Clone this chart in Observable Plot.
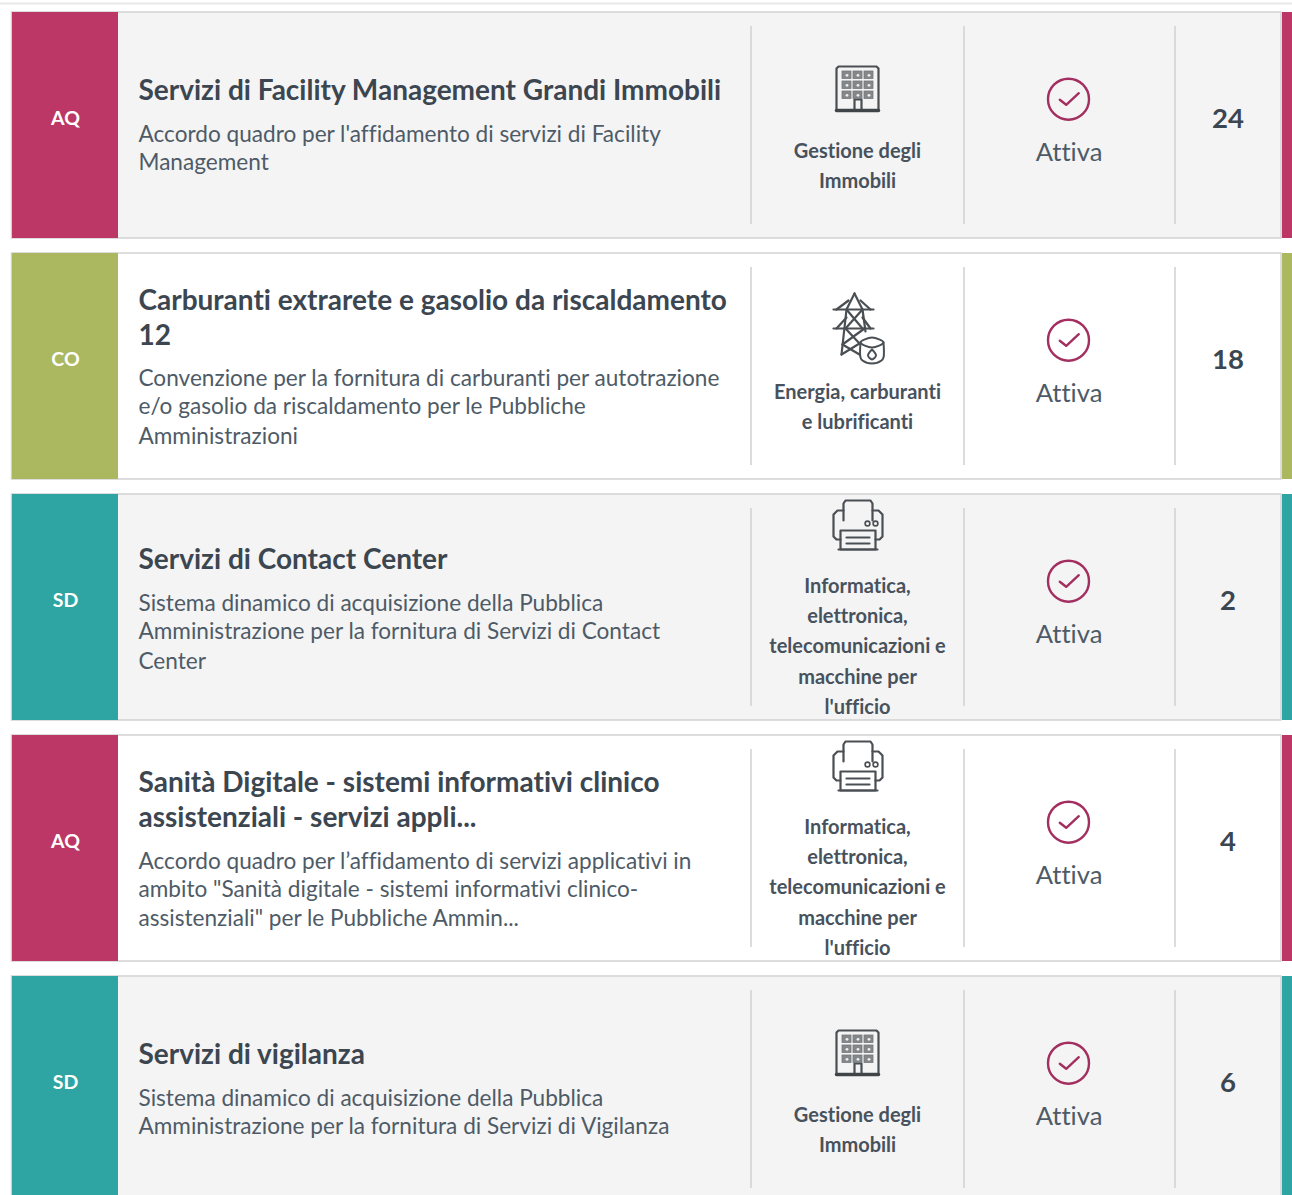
<!DOCTYPE html>
<html lang="it">
<head>
<meta charset="utf-8">
<style>
html,body{margin:0;padding:0;background:#fff;overflow:hidden}
svg{display:block}
svg text{font-variant-ligatures:none}
</style>
<script src="https://cdn.jsdelivr.net/npm/d3@7"></script>
<script src="https://cdn.jsdelivr.net/npm/@observablehq/plot@0.6"></script>
</head>
<body>
<div id="chart"></div>
<script>
const codes = ["AQ","CO","SD","AQ","SD"];
const counts = ["24","18","2","4","6"];
const statusLabels = ["Attiva","Attiva","Attiva","Attiva","Attiva"];
const titles = [
  ["Servizi di Facility Management Grandi Immobili"],
  ["Carburanti extrarete e gasolio da riscaldamento","12"],
  ["Servizi di Contact Center"],
  ["Sanità Digitale - sistemi informativi clinico","assistenziali - servizi appli..."],
  ["Servizi di vigilanza"]
];
const descriptions = [
  ["Accordo quadro per l'affidamento di servizi di Facility","Management"],
  ["Convenzione per la fornitura di carburanti per autotrazione","e/o gasolio da riscaldamento per le Pubbliche","Amministrazioni"],
  ["Sistema dinamico di acquisizione della Pubblica","Amministrazione per la fornitura di Servizi di Contact","Center"],
  ["Accordo quadro per l’affidamento di servizi applicativi in","ambito \"Sanità digitale - sistemi informativi clinico-","assistenziali\" per le Pubbliche Ammin..."],
  ["Sistema dinamico di acquisizione della Pubblica","Amministrazione per la fornitura di Servizi di Vigilanza"]
];
const categories = [
  ["Gestione degli","Immobili"],
  ["Energia, carburanti","e lubrificanti"],
  ["Informatica,","elettronica,","telecomunicazioni e","macchine per","l'ufficio"],
  ["Informatica,","elettronica,","telecomunicazioni e","macchine per","l'ufficio"],
  ["Gestione degli","Immobili"]
];
const iconKinds = ["building","tower","printer","printer","building"];
const codeColors = {AQ:"#bc3765",CO:"#abb860",SD:"#2ea5a2"};

// Layout
const W=1292,H=1195,rowTops=[12,253,494,735,976],cardH=226;
const font="Lato, 'Noto Sans', sans-serif";
const rows=codes.map((code,i)=>({i,code,top:rowTops[i],bottom:Math.min(rowTops[i]+cardH,H+2),
  fill:i%2?"#ffffff":"#f4f4f4",color:codeColors[code]}));
const titleOffsets=[[79],[48,83],[66],[48,83],[79]];
const descOffsets=[[122,150],[125,153,183],[109,137,167],[126,154,183],[122,150]];
const catOffsets={2:[139.5,169],5:[92.5,122.5,152.5,183.5,213.5]};
const lines=(arr,offs)=>arr.flatMap((ls,i)=>ls.map((t,j)=>({t,y:rowTops[i]+offs(i)[j]})));
const titleLines=lines(titles,i=>titleOffsets[i]);
const descLines=lines(descriptions,i=>descOffsets[i]);
const catLines=lines(categories,i=>catOffsets[categories[i].length]);

// Icon outlines, as polylines relative to the card top
const building=[
 [[836,97],[836,56],[838,54],[876,54],[878,56],[878,97]],
 [[854,97],[854,87],[861,87],[861,97]]
];
const buildingBase=[[[836,98],[878,98]]];
const windowCols=[842,853,864], windowRows=[59,69,79];
const tower=[
 [[854,40],[846,56],[841,101]],[[854,40],[862,56],[865,78]],
 [[833,56],[873,56]],[[833,75],[873,75]],
 [[836,56],[848,47]],[[870,56],[860,47]],[[836,75],[846,64]],[[870,75],[862,64]],
 [[846,56],[862,75]],[[862,56],[845,75]],
 [[845,75],[859,90]],[[864,75],[842,91]],[[842,91],[859,101]],[[841,101],[859,90]]
];
const printer=[
 [[843,26],[843,9],[845,6],[870,6],[872,9],[872,26]],
 [[843,16],[837,16],[833,20],[833,42],[836,45],[840,45]],
 [[872,16],[878,16],[882,20],[882,42],[879,45],[875,45]],
 [[840,36],[875,36],[875,55],[840,55],[840,36]],
 [[838,55],[877,55]],
 [[846,43],[869,43]],[[846,49],[869,49]]
];
const polys=(kind,shape)=>iconKinds.flatMap((k,i)=>k!==kind?[]:shape.flatMap((pl,j)=>pl.map(([x,y])=>({x,y:y+rowTops[i],z:`${i}-${j}`}))));
const iconPaths=[...polys("building",building),...polys("tower",tower),...polys("printer",printer)];
const baseLines=polys("building",buildingBase);
// Barrel of the energy icon: smooth outlines
const barrelOpen=[
 [[860,89],[860,104],[862,107],[871.5,110],[881,107],[883,104],[883,89]],
 [[871.5,96],[867.5,102],[871.5,106],[875.5,102],[871.5,96]]
];
const barrelTop=[[[860,89],[871.5,84],[883,89],[871.5,94]]];
const barrelLines=polys("tower",barrelOpen);
const barrelTopLines=polys("tower",barrelTop);
const windows=iconKinds.flatMap((k,i)=>k!=="building"?[]:windowCols.flatMap(x=>windowRows.map(y=>({x,y:y+rowTops[i]}))));
const printerDots=iconKinds.flatMap((k,i)=>k!=="printer"?[]:[867,875].map(x=>({x,y:rowTops[i]+29})));
const checkShape=[[-8.7,.6],[-2.3,5.6],[10.3,-6]];
const checks=rows.flatMap(r=>checkShape.map(([dx,dy])=>({x:1068+dx,y:r.top+86.7+dy,z:r.i})));
const seps=rows.flatMap(r=>[750.5,963.5,1174.5].map(x=>({x,y1:r.top+14,y2:Math.min(r.top+212,H)})));
const dark="#3c4650", mid="#4e5b67", iconColor="#4a4f54";

const chart=Plot.plot({
  width:W,height:H,margin:0,
  x:{domain:[0,W],range:[0,W],axis:null},
  y:{domain:[0,H],range:[0,H],axis:null},
  style:{background:"#fff",fontFamily:font,overflow:"hidden"},
  marks:[
    Plot.ruleY([3],{stroke:"#e8e8e8",strokeWidth:2}),
    Plot.rect(rows,{x1:11.5,x2:1281,y1:"top",y2:"bottom",fill:"fill",stroke:"#d2d2d2",strokeWidth:1.5}),
    Plot.rect(rows,{x1:12,x2:118,y1:"top",y2:"bottom",fill:"color"}),
    Plot.rect(rows,{x1:1282,x2:W,y1:"top",y2:"bottom",fill:"color"}),
    Plot.ruleX(seps,{x:"x",y1:"y1",y2:"y2",stroke:"#d4d4d4",strokeWidth:1.6}),
    Plot.text(rows,{x:65,y:d=>d.top+106.5,text:"code",fill:"#fff",fontSize:19.5,fontWeight:700,lineAnchor:"middle"}),
    Plot.text(titleLines,{x:138,y:"y",text:"t",textAnchor:"start",lineAnchor:"middle",fontSize:28,fontWeight:700,fill:dark}),
    Plot.text(descLines,{x:138,y:"y",text:"t",textAnchor:"start",lineAnchor:"middle",fontSize:22.6,fill:mid}),
    Plot.text(catLines,{x:857,y:"y",text:"t",lineAnchor:"middle",fontSize:20,fontWeight:700,fill:"#47525d"}),
    Plot.text(rows,{x:1068.5,y:d=>d.top+140.5,text:d=>statusLabels[d.i],lineAnchor:"middle",fontSize:25.6,fill:mid}),
    Plot.text(rows,{x:1227.5,y:d=>d.top+106.5,text:d=>counts[d.i],lineAnchor:"middle",fontSize:27.5,fontWeight:700,fill:dark}),
    Plot.dot(rows,{x:1068,y:d=>d.top+86.7,r:20.5,stroke:"#a32f60",strokeWidth:2.4,fill:"none"}),
    Plot.line(checks,{x:"x",y:"y",z:"z",stroke:"#a32f60",strokeWidth:2.4,curve:"linear"}),
    Plot.line(iconPaths,{x:"x",y:"y",z:"z",stroke:iconColor,strokeWidth:2.2,curve:"linear",strokeLinejoin:"round",strokeLinecap:"round"}),
    Plot.line(baseLines,{x:"x",y:"y",z:"z",stroke:"#3f4448",strokeWidth:3.5,curve:"linear"}),
    Plot.line(barrelLines,{x:"x",y:"y",z:"z",stroke:iconColor,strokeWidth:2,curve:"catmull-rom"}),
    Plot.line(barrelTopLines,{x:"x",y:"y",z:"z",stroke:iconColor,strokeWidth:2,curve:"cardinal-closed"}),
    Plot.rect(windows,{x1:"x",x2:d=>d.x+9,y1:"y",y2:d=>d.y+7.5,fill:"#85888b",stroke:"#74787c",strokeWidth:.8}),
    Plot.dot(windows,{x:d=>d.x+4.5,y:d=>d.y+3.8,r:1.4,fill:"#eee"}),
    Plot.dot(printerDots,{x:"x",y:"y",r:2.4,stroke:iconColor,strokeWidth:1.6,fill:"none"})
  ]
});
document.getElementById("chart").append(chart);
</script>
</body>
</html>
